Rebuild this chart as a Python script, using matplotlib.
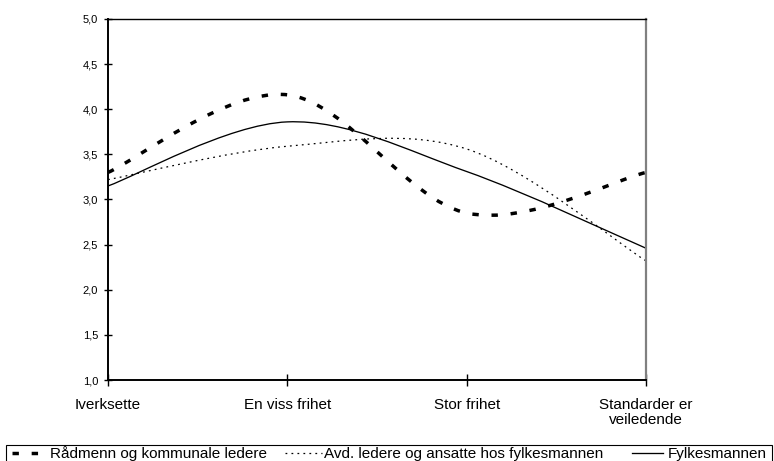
import matplotlib
matplotlib.use("Agg")
import matplotlib.pyplot as plt
from matplotlib.path import Path
from matplotlib.patches import PathPatch, Rectangle
from matplotlib.lines import Line2D
from matplotlib.ticker import FuncFormatter, MultipleLocator


categories = ["Iverksette", "En viss frihet", "Stor frihet", "Standarder er\nveiledende"]

radmenn = [3.30, 4.16, 2.85, 3.30]
avd_ledere = [3.22, 3.59, 3.56, 2.32]
fylkesmannen = [3.15, 3.86, 3.31, 2.46]

series_labels = [
    "Rådmenn og kommunale ledere",
    "Avd. ledere og ansatte hos fylkesmannen",
    "Fylkesmannen",
]

plt.rcParams["font.family"] = ["Liberation Sans", "DejaVu Sans"]
plt.rcParams["lines.scale_dashes"] = False


def smooth_path(values):
    # cubic Bezier segments through the points, Catmull-Rom style tangents
    pts = list(enumerate(values))
    n = len(pts)
    verts = [pts[0]]
    codes = [Path.MOVETO]
    for i in range(n - 1):
        p0 = pts[max(i - 1, 0)]
        p1 = pts[i]
        p2 = pts[i + 1]
        p3 = pts[min(i + 2, n - 1)]
        c1 = (p1[0] + (p2[0] - p0[0]) / 6, p1[1] + (p2[1] - p0[1]) / 6)
        c2 = (p2[0] - (p3[0] - p1[0]) / 6, p2[1] - (p3[1] - p1[1]) / 6)
        verts += [c1, c2, p2]
        codes += [Path.CURVE4] * 3
    return Path(verts, codes)


styles = [
    dict(linewidth=2.5, linestyle=(0, (4.6, 9.2))),
    dict(linewidth=0.9, linestyle=(0, (1.3, 3.0))),
    dict(linewidth=0.95, linestyle="-"),
]

W, H = 774, 461
fig = plt.figure(figsize=(W / 100, H / 100), dpi=100)
ax = fig.add_axes([108 / W, 1 - 380 / H, (646 - 108) / W, (380 - 19) / H])

for values, st in zip([radmenn, avd_ledere, fylkesmannen], styles):
    ax.add_patch(PathPatch(smooth_path(values), fill=False, edgecolor="black",
                           capstyle="butt", **st))

ax.set_xlim(0, len(categories) - 1)
ax.set_ylim(1, 5)
ax.set_xticks(range(len(categories)))
ax.set_xticklabels(categories, fontsize=11, linespacing=1.1)
ax.yaxis.set_major_locator(MultipleLocator(0.5))
ax.yaxis.set_major_formatter(FuncFormatter(lambda v, p: f"{v:.1f}".replace(".", ",")))
ax.tick_params(axis="y", direction="inout", length=6, width=1, labelsize=8, pad=4)
ax.tick_params(axis="x", direction="inout", length=8, width=1, pad=9)

for side in ["left", "bottom"]:
    ax.spines[side].set_linewidth(1.4)
ax.spines["top"].set_linewidth(1.0)
ax.spines["right"].set_linewidth(1.6)
ax.spines["right"].set_color("#808080")

# legend row along the bottom edge, laid out in pixel positions
def fx(px):
    return px / W


def fy(py):
    return 1 - py / H


fig.add_artist(Rectangle((fx(6), fy(475)), fx(772) - fx(6), fy(445) - fy(475),
                         transform=fig.transFigure, fill=False,
                         edgecolor="black", linewidth=0.8))

legend_items = [(12, 39, 50), (285, 322, 324), (632, 663, 668)]
for (h0, h1, tx), st, label in zip(legend_items, styles, series_labels):
    fig.add_artist(Line2D([fx(h0), fx(h1)], [fy(453), fy(453)],
                          transform=fig.transFigure, color="black", **st))
    fig.text(fx(tx), fy(457.5), label, fontsize=11, va="baseline", ha="left")

fig.savefig("out.png", dpi=100)
